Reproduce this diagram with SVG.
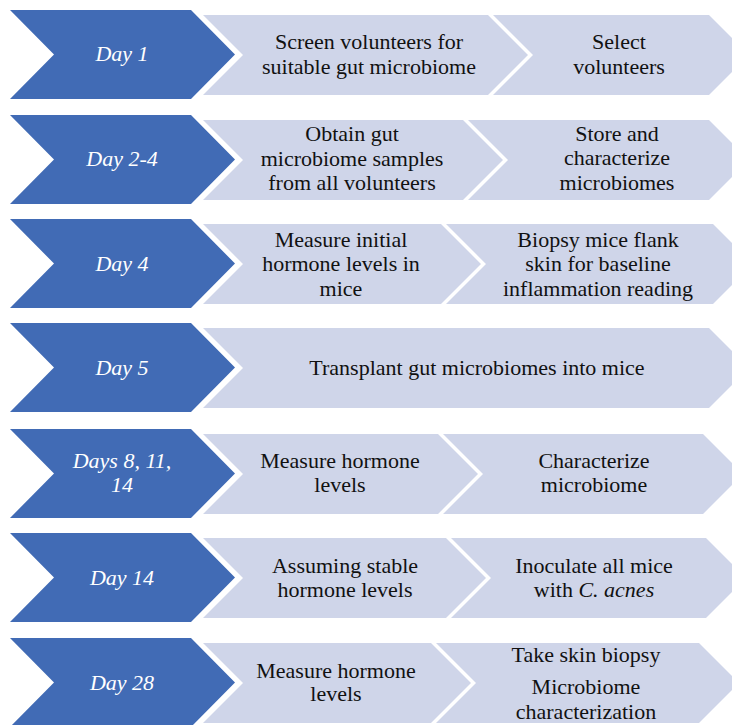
<svg xmlns="http://www.w3.org/2000/svg" width="732" height="725" viewBox="0 0 732 725">
<rect width="732" height="725" fill="#fff"/>
<g id="row1">
<polygon fill="#416BB5" points="10,10 191,10 235,54.5 191,99 10,99 54,54.5"/>
<text font-family="Times New Roman" font-size="22" font-style="italic" fill="#fff" text-anchor="middle" x="122" y="61">Day 1</text>
<polygon fill="#CFD5E9" points="203,15 488,15 528,55 488,95 203,95 243,55"/>
<text font-family="Times New Roman" font-size="22" fill="#111" text-anchor="middle" x="369" y="49">Screen volunteers for</text>
<text font-family="Times New Roman" font-size="22" fill="#111" text-anchor="middle" x="369" y="74">suitable gut microbiome</text>
<polygon fill="#CFD5E9" points="493,15 709,15 749,55 709,95 493,95 533,55"/>
<text font-family="Times New Roman" font-size="22" fill="#111" text-anchor="middle" x="619" y="49">Select</text>
<text font-family="Times New Roman" font-size="22" fill="#111" text-anchor="middle" x="619" y="74">volunteers</text>
</g>
<g id="row2">
<polygon fill="#416BB5" points="10,115 191,115 235,159.5 191,204 10,204 54,159.5"/>
<text font-family="Times New Roman" font-size="22" font-style="italic" fill="#fff" text-anchor="middle" x="122" y="166">Day 2-4</text>
<polygon fill="#CFD5E9" points="203,120 463,120 503,160 463,200 203,200 243,160"/>
<text font-family="Times New Roman" font-size="22" fill="#111" text-anchor="middle" x="352" y="141">Obtain gut</text>
<text font-family="Times New Roman" font-size="22" fill="#111" text-anchor="middle" x="352" y="166">microbiome samples</text>
<text font-family="Times New Roman" font-size="22" fill="#111" text-anchor="middle" x="352" y="190">from all volunteers</text>
<polygon fill="#CFD5E9" points="468,120 709,120 749,160 709,200 468,200 508,160"/>
<text font-family="Times New Roman" font-size="22" fill="#111" text-anchor="middle" x="617" y="141">Store and</text>
<text font-family="Times New Roman" font-size="22" fill="#111" text-anchor="middle" x="617" y="165">characterize</text>
<text font-family="Times New Roman" font-size="22" fill="#111" text-anchor="middle" x="617" y="190">microbiomes</text>
</g>
<g id="row3">
<polygon fill="#416BB5" points="10,219 191,219 235,263.5 191,308 10,308 54,263.5"/>
<text font-family="Times New Roman" font-size="22" font-style="italic" fill="#fff" text-anchor="middle" x="122" y="271">Day 4</text>
<polygon fill="#CFD5E9" points="203,224 441,224 481,264 441,304 203,304 243,264"/>
<text font-family="Times New Roman" font-size="22" fill="#111" text-anchor="middle" x="341" y="247">Measure initial</text>
<text font-family="Times New Roman" font-size="22" fill="#111" text-anchor="middle" x="341" y="271">hormone levels in</text>
<text font-family="Times New Roman" font-size="22" fill="#111" text-anchor="middle" x="341" y="296">mice</text>
<polygon fill="#CFD5E9" points="446,224 713,224 753,264 713,304 446,304 486,264"/>
<text font-family="Times New Roman" font-size="22" fill="#111" text-anchor="middle" x="598" y="247">Biopsy mice flank</text>
<text font-family="Times New Roman" font-size="22" fill="#111" text-anchor="middle" x="598" y="271">skin for baseline</text>
<text font-family="Times New Roman" font-size="22" fill="#111" text-anchor="middle" x="598" y="296">inflammation reading</text>
</g>
<g id="row4">
<polygon fill="#416BB5" points="10,323 191,323 235,367.5 191,412 10,412 54,367.5"/>
<text font-family="Times New Roman" font-size="22" font-style="italic" fill="#fff" text-anchor="middle" x="122" y="375">Day 5</text>
<polygon fill="#CFD5E9" points="203,328 709,328 749,368 709,408 203,408 243,368"/>
<text font-family="Times New Roman" font-size="22" fill="#111" text-anchor="middle" x="477" y="375">Transplant gut microbiomes into mice</text>
</g>
<g id="row5">
<polygon fill="#416BB5" points="10,429 191,429 235,473.5 191,518 10,518 54,473.5"/>
<text font-family="Times New Roman" font-size="22" font-style="italic" fill="#fff" text-anchor="middle" x="122" y="468">Days 8, 11,</text>
<text font-family="Times New Roman" font-size="22" font-style="italic" fill="#fff" text-anchor="middle" x="122" y="492">14</text>
<polygon fill="#CFD5E9" points="203,434 438,434 478,474 438,514 203,514 243,474"/>
<text font-family="Times New Roman" font-size="22" fill="#111" text-anchor="middle" x="340" y="468">Measure hormone</text>
<text font-family="Times New Roman" font-size="22" fill="#111" text-anchor="middle" x="340" y="492">levels</text>
<polygon fill="#CFD5E9" points="443,434 703,434 743,474 703,514 443,514 483,474"/>
<text font-family="Times New Roman" font-size="22" fill="#111" text-anchor="middle" x="594" y="468">Characterize</text>
<text font-family="Times New Roman" font-size="22" fill="#111" text-anchor="middle" x="594" y="492">microbiome</text>
</g>
<g id="row6">
<polygon fill="#416BB5" points="10,533 191,533 235,577.5 191,622 10,622 54,577.5"/>
<text font-family="Times New Roman" font-size="22" font-style="italic" fill="#fff" text-anchor="middle" x="122" y="585">Day 14</text>
<polygon fill="#CFD5E9" points="203,538 446,538 486,578 446,618 203,618 243,578"/>
<text font-family="Times New Roman" font-size="22" fill="#111" text-anchor="middle" x="345" y="573">Assuming stable</text>
<text font-family="Times New Roman" font-size="22" fill="#111" text-anchor="middle" x="345" y="597">hormone levels</text>
<polygon fill="#CFD5E9" points="451,538 706,538 746,578 706,618 451,618 491,578"/>
<text font-family="Times New Roman" font-size="22" fill="#111" text-anchor="middle" x="594" y="573">Inoculate all mice</text>
<text font-family="Times New Roman" font-size="22" fill="#111" text-anchor="middle" x="594" y="597">with <tspan font-style="italic">C. acnes</tspan></text>
</g>
<g id="row7">
<polygon fill="#416BB5" points="10,638 191,638 235,682.5 191,727 10,727 54,682.5"/>
<text font-family="Times New Roman" font-size="22" font-style="italic" fill="#fff" text-anchor="middle" x="122" y="690">Day 28</text>
<polygon fill="#CFD5E9" points="203,643 431,643 471,683 431,723 203,723 243,683"/>
<text font-family="Times New Roman" font-size="22" fill="#111" text-anchor="middle" x="336" y="678">Measure hormone</text>
<text font-family="Times New Roman" font-size="22" fill="#111" text-anchor="middle" x="336" y="701">levels</text>
<polygon fill="#CFD5E9" points="436,643 699,643 739,683 699,723 436,723 476,683"/>
<text font-family="Times New Roman" font-size="22" fill="#111" text-anchor="middle" x="586" y="662">Take skin biopsy</text>
<text font-family="Times New Roman" font-size="22" fill="#111" text-anchor="middle" x="586" y="694">Microbiome</text>
<text font-family="Times New Roman" font-size="22" fill="#111" text-anchor="middle" x="586" y="719">characterization</text>
</g>
</svg>
